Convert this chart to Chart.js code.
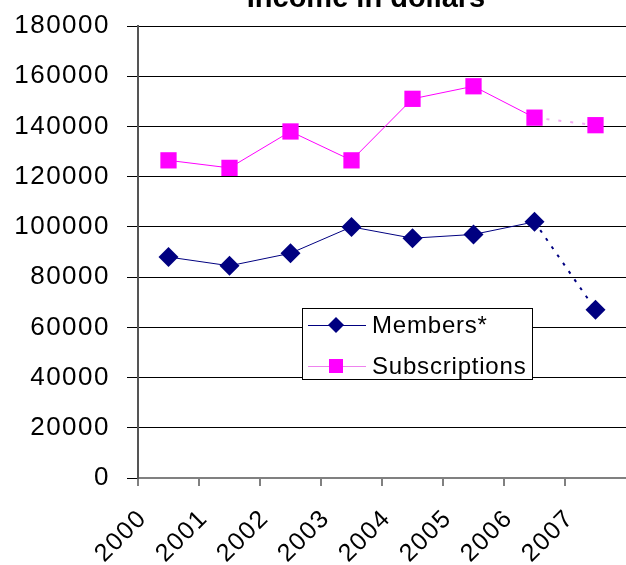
<!DOCTYPE html>
<html>
<head>
<meta charset="utf-8">
<script src="https://cdn.jsdelivr.net/npm/chart.js@4/dist/chart.umd.min.js"></script>
<style>
  html, body { margin: 0; padding: 0; background: #fff; }
  #wrap { width: 626px; height: 565px; }
</style>
</head>
<body>
<div id="wrap"><canvas id="myChart" width="626" height="565"></canvas></div>
<script>
// values
const years = ['2000', '2001', '2002', '2003', '2004', '2005', '2006', '2007'];
const members = [88000, 84500, 89500, 100000, 95500, 97000, 102000, 67000];
const subscriptions = [126500, 123500, 138000, 126500, 151000, 156000, 143500, 140500];
const yTicks = [0, 20000, 40000, 60000, 80000, 100000, 120000, 140000, 160000, 180000];

const FONT = '"Liberation Sans", Arial, sans-serif';

// points sit in the middle of each year slot, labels sit on the slot edges
const toPoints = vals => vals.map((v, i) => ({ x: i + 0.5, y: v }));
const isLast = ctx => ctx.p0DataIndex === years.length - 2;

// no extra padding for overflowing labels, so the plot fills the frame like the original
const noPad = s => { s.paddingTop = 0; s.paddingBottom = 0; s.paddingLeft = 0; s.paddingRight = 0; };

const titleAndLegend = {
  id: 'titleAndLegend',
  beforeDraw(chart) {
    chart.ctx.letterSpacing = '1.5px';
  },
  afterDraw(chart) {
    const ctx = chart.ctx;
    ctx.save();
    ctx.letterSpacing = '0px';
    // title, clipped by the top of the picture
    ctx.fillStyle = '#000';
    ctx.font = 'bold 29px ' + FONT;
    ctx.textAlign = 'center';
    ctx.textBaseline = 'alphabetic';
    ctx.fillText('Income in dollars', 366, 7);

    // legend box
    const bx = 302, by = 308, bw = 230, bh = 71;
    ctx.fillStyle = '#fff';
    ctx.fillRect(bx, by, bw, bh);
    ctx.strokeStyle = '#000';
    ctx.lineWidth = 1;
    ctx.strokeRect(bx + 0.5, by + 0.5, bw, bh);

    const rows = [
      { label: 'Members*', line: '#000080', fill: '#000080', shape: 'diamond', y: by + 17 },
      { label: 'Subscriptions', line: '#ee82ee', fill: '#ff00ff', shape: 'square', y: by + 58 }
    ];
    rows.forEach(r => {
      ctx.strokeStyle = r.line;
      ctx.lineWidth = 1;
      ctx.beginPath();
      ctx.moveTo(bx + 6, r.y + 0.5);
      ctx.lineTo(bx + 64, r.y + 0.5);
      ctx.stroke();
      ctx.fillStyle = r.fill;
      ctx.beginPath();
      if (r.shape === 'diamond') {
        const cx = bx + 34;
        ctx.moveTo(cx, r.y - 8);
        ctx.lineTo(cx + 8, r.y);
        ctx.lineTo(cx, r.y + 8);
        ctx.lineTo(cx - 8, r.y);
        ctx.closePath();
        ctx.fill();
      } else {
        ctx.fillRect(bx + 27, r.y - 7, 14, 14);
      }
      ctx.fillStyle = '#000';
      ctx.font = '24px ' + FONT;
      ctx.letterSpacing = '0.8px';
      ctx.textAlign = 'left';
      ctx.textBaseline = 'middle';
      ctx.fillText(r.label, bx + 70, r.y + 1);
      ctx.letterSpacing = '0px';
    });
    ctx.restore();
  }
};

new Chart(document.getElementById('myChart').getContext('2d'), {
  type: 'line',
  data: {
    datasets: [{
      label: 'Members*',
      data: toPoints(members),
      borderColor: '#000080',
      backgroundColor: '#000080',
      borderWidth: 1,
      pointStyle: 'rectRot',
      pointRadius: 10,
      pointBorderWidth: 0,
      segment: {
        borderDash: ctx => isLast(ctx) ? [3, 7] : undefined,
        borderWidth: ctx => isLast(ctx) ? 2 : 1
      }
    }, {
      label: 'Subscriptions',
      data: toPoints(subscriptions),
      borderColor: '#ff00ff',
      backgroundColor: '#ff00ff',
      borderWidth: 1,
      pointStyle: 'rect',
      pointRadius: 11.5,
      pointBorderWidth: 0,
      segment: {
        borderDash: ctx => isLast(ctx) ? [3, 9] : undefined,
        borderColor: ctx => isLast(ctx) ? '#f4a8f4' : undefined,
        borderWidth: ctx => isLast(ctx) ? 2 : 1
      }
    }]
  },
  options: {
    responsive: false,
    animation: false,
    layout: { autoPadding: false, padding: { top: 26, right: 0, left: 0, bottom: 0 } },
    plugins: { legend: { display: false }, title: { display: false }, tooltip: { enabled: false } },
    scales: {
      x: {
        type: 'linear',
        min: 0,
        max: years.length,
        afterFit: s => { s.height = 87; noPad(s); },
        afterBuildTicks: s => { s.ticks = years.map((y, i) => ({ value: i })); },
        grid: { drawOnChartArea: false, color: '#808080', lineWidth: 2, tickLength: 8 },
        border: { color: '#808080', width: 2 },
        ticks: {
          color: '#000',
          font: { family: FONT, size: 25 },
          minRotation: 45,
          maxRotation: 45,
          padding: 18,
          labelOffset: 5,
          autoSkip: false,
          callback: v => years[v] ?? ''
        }
      },
      y: {
        min: 0,
        max: 180000,
        afterFit: s => { s.width = 138; noPad(s); },
        afterBuildTicks: s => { s.ticks = yTicks.map(v => ({ value: v })); },
        grid: { color: '#000', lineWidth: 1, tickLength: 11 },
        border: { color: '#555', width: 2 },
        ticks: {
          color: '#000',
          font: { family: FONT, size: 26 },
          padding: 17,
          callback: v => String(v)
        }
      }
    }
  },
  plugins: [titleAndLegend]
});
</script>
</body>
</html>
